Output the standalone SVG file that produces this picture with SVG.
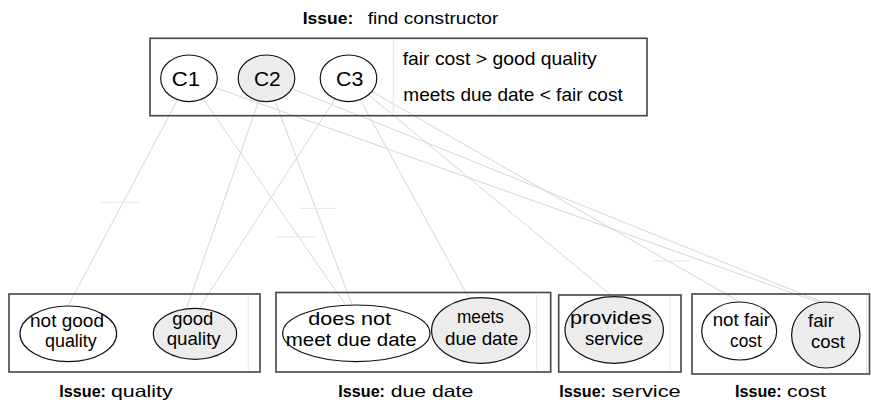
<svg xmlns="http://www.w3.org/2000/svg" width="871" height="403" viewBox="0 0 871 403">
<style>
.box{fill:none;stroke:#444;stroke-width:1.6}
.ov{fill:#fff;stroke:#111;stroke-width:1.2}
.ov.sel{fill:#ececec}
.con{stroke:#d6d6d6;stroke-width:1;fill:none}
.faint{stroke:#e6e6e6;stroke-width:1}
.t{font-family:"Liberation Sans",Arial,sans-serif;font-size:19px;fill:#000}
.c{font-size:21px}
.lb{font-family:"Liberation Sans",Arial,sans-serif;font-size:16.5px;fill:#000}
.b{font-weight:bold}
</style>
<g id="connectors">
<line class="con" x1="189" y1="78.3" x2="68" y2="306"/>
<line class="con" x1="266.5" y1="78.3" x2="187" y2="307"/>
<line class="con" x1="348.5" y1="78.3" x2="200" y2="307"/>
<line class="con" x1="189" y1="78.3" x2="345" y2="304"/>
<line class="con" x1="266.5" y1="78.3" x2="351.7" y2="304"/>
<line class="con" x1="348.5" y1="78.3" x2="470" y2="300"/>
<line class="con" x1="348.5" y1="78.3" x2="612" y2="296"/>
<line class="con" x1="348.5" y1="78.3" x2="740" y2="302"/>
<line class="con" x1="189" y1="78.3" x2="818" y2="302"/>
<line class="con" x1="266.5" y1="78.3" x2="822" y2="302"/>
<line class="faint" x1="101" y1="202.3" x2="139" y2="202.3"/>
<line class="faint" x1="299" y1="208.3" x2="335.7" y2="208.3"/>
<line class="faint" x1="275" y1="237" x2="315" y2="237"/>
<line class="faint" x1="653.3" y1="261" x2="690" y2="261"/>
</g>
<g id="top">
<rect class="box" x="150" y="38.3" width="497" height="77.4"/>
<line class="faint" x1="393.3" y1="39.5" x2="393.3" y2="114.5"/>
<text class="lb b" x="302.7" y="23.5" textLength="50.6" lengthAdjust="spacingAndGlyphs">Issue:</text>
<text class="lb" x="367.7" y="23.5" textLength="130.6" lengthAdjust="spacingAndGlyphs">find constructor</text>
<text class="t" x="402.7" y="65" textLength="194" lengthAdjust="spacingAndGlyphs">fair cost &gt; good quality</text>
<text class="t" x="403.3" y="100.5" textLength="219.4" lengthAdjust="spacingAndGlyphs">meets due date &lt; fair cost</text>
</g>
<g id="C1"><ellipse class="ov" cx="189" cy="78.3" rx="28.3" ry="23.3"/><text class="t c" x="171.7" y="86" textLength="28.3" lengthAdjust="spacingAndGlyphs">C1</text></g>
<g id="C2"><ellipse class="ov sel" cx="266.5" cy="78.3" rx="28.3" ry="23.3"/><text class="t c" x="254" y="86" textLength="26.7" lengthAdjust="spacingAndGlyphs">C2</text></g>
<g id="C3"><ellipse class="ov" cx="348.5" cy="78.3" rx="28.3" ry="23.3"/><text class="t c" x="336" y="86" textLength="27.3" lengthAdjust="spacingAndGlyphs">C3</text></g>
<g id="issue-quality">
<rect class="box" x="9" y="294" width="251" height="78"/>
<line class="faint" x1="248.3" y1="295" x2="248.3" y2="371"/>
<text class="lb b" x="59.3" y="396.5" textLength="46.7" lengthAdjust="spacingAndGlyphs">Issue:</text>
<text class="lb" x="111" y="396.5" textLength="61.7" lengthAdjust="spacingAndGlyphs">quality</text>
</g>
<g id="not-good-quality"><ellipse class="ov" cx="68.3" cy="333.8" rx="48.3" ry="27.8"/>
<text class="t" x="30" y="326.5" textLength="74" lengthAdjust="spacingAndGlyphs">not good</text>
<text class="t" x="45" y="346.5" textLength="51.7" lengthAdjust="spacingAndGlyphs">quality</text></g>
<g id="good-quality"><ellipse class="ov sel" cx="195" cy="333.8" rx="41.7" ry="25.5"/>
<text class="t" x="172.3" y="324.5" textLength="41" lengthAdjust="spacingAndGlyphs">good</text>
<text class="t" x="166.7" y="345" textLength="54" lengthAdjust="spacingAndGlyphs">quality</text></g>
<g id="issue-due-date">
<rect class="box" x="276" y="292.5" width="274.7" height="79.5"/>
<line class="faint" x1="536.7" y1="293.5" x2="536.7" y2="371"/>
<text class="lb b" x="338.3" y="396.5" textLength="46.7" lengthAdjust="spacingAndGlyphs">Issue:</text>
<text class="lb" x="390.7" y="396.5" textLength="82.6" lengthAdjust="spacingAndGlyphs">due date</text>
</g>
<g id="does-not-meet"><ellipse class="ov" cx="356.3" cy="333.3" rx="73.7" ry="28.3"/>
<text class="t" x="308.3" y="324.5" textLength="82.7" lengthAdjust="spacingAndGlyphs">does not</text>
<text class="t" x="285.7" y="345.5" textLength="131" lengthAdjust="spacingAndGlyphs">meet due date</text></g>
<g id="meets-due-date"><ellipse class="ov sel" cx="480.8" cy="330.5" rx="49.2" ry="32.8"/>
<text class="t" x="457" y="323" textLength="47" lengthAdjust="spacingAndGlyphs">meets</text>
<text class="t" x="445" y="345" textLength="73.3" lengthAdjust="spacingAndGlyphs">due date</text></g>
<g id="issue-service">
<rect class="box" x="558.7" y="295" width="122.3" height="77"/>
<line class="faint" x1="670" y1="296" x2="670" y2="371"/>
<text class="lb b" x="559.3" y="396.5" textLength="46.7" lengthAdjust="spacingAndGlyphs">Issue:</text>
<text class="lb" x="611.7" y="396.5" textLength="69" lengthAdjust="spacingAndGlyphs">service</text>
</g>
<g id="provides-service"><ellipse class="ov sel" cx="614.2" cy="330" rx="49.2" ry="33.3"/>
<text class="t" x="570" y="324.3" textLength="81.7" lengthAdjust="spacingAndGlyphs">provides</text>
<text class="t" x="585" y="345" textLength="58.3" lengthAdjust="spacingAndGlyphs">service</text></g>
<g id="issue-cost">
<rect class="box" x="692" y="294" width="177.5" height="80"/>
<line class="faint" x1="866.7" y1="295" x2="866.7" y2="373"/>
<text class="lb b" x="735" y="396.5" textLength="46.7" lengthAdjust="spacingAndGlyphs">Issue:</text>
<text class="lb" x="787" y="396.5" textLength="39" lengthAdjust="spacingAndGlyphs">cost</text>
</g>
<g id="not-fair-cost"><ellipse class="ov" cx="739.2" cy="331" rx="37.5" ry="29"/>
<text class="t" x="712.7" y="326" textLength="57.3" lengthAdjust="spacingAndGlyphs">not fair</text>
<text class="t" x="730" y="346.5" textLength="31.7" lengthAdjust="spacingAndGlyphs">cost</text></g>
<g id="fair-cost"><ellipse class="ov sel" cx="825.8" cy="335" rx="34.2" ry="33"/>
<text class="t" x="808" y="327" textLength="26" lengthAdjust="spacingAndGlyphs">fair</text>
<text class="t" x="811" y="348" textLength="34" lengthAdjust="spacingAndGlyphs">cost</text></g>
</svg>
